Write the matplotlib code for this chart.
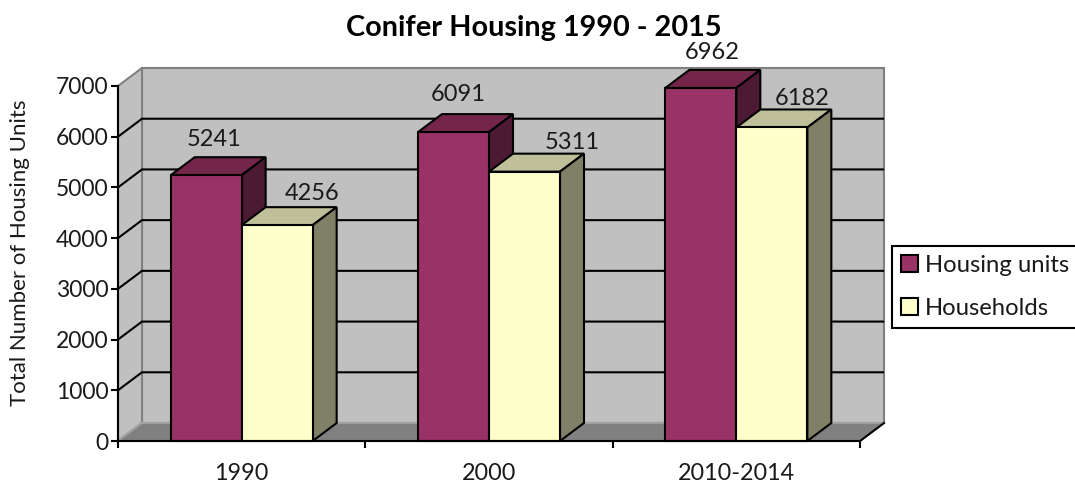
#!/usr/bin/env python
# -*- coding: utf-8 -*-

import matplotlib
matplotlib.use("Agg")
import matplotlib.pyplot as plt
from matplotlib.patches import Polygon, Patch

plt.rcParams['font.family'] = ['Lato', 'DejaVu Sans']

# The data.
categories = ["1990", "2000", "2010-2014"]
housing_units = [5241, 6091, 6962]
households = [4256, 5311, 6182]
y_ticks = [0, 1000, 2000, 3000, 4000, 5000, 6000, 7000]

# Colours: front, top, side.
unit_cols = ("#993366", "#732649", "#4d1a33")
hh_cols = ("#ffffcc", "#bfbf99", "#808066")

fig = plt.figure(figsize=(10.75, 4.84), dpi=100, facecolor='w')

# Axes placed so that x = 0..3 is 118..860 px and y = 0..7000 is 441..86 px.
ax = fig.add_axes([118 / 1075, (484 - 441) / 484, 742 / 1075, 355 / 484])
ax.set_xlim(0, 3)
ax.set_ylim(0, 7000)
ax.patch.set_visible(False)

# Depth of the fake 3D box, in data units.
dx = 24 / (742 / 3)
dy = 18 / (355 / 7000)
# Bar width in data units.
bw = 71 / (742 / 3)
lw = 1.5


def poly(pts, fc, ec, z, w=lw):
    ax.add_patch(Polygon(pts, closed=True, facecolor=fc, edgecolor=ec,
                         linewidth=w, zorder=z, clip_on=False, joinstyle='miter'))


# Walls and floor.
ymax = y_ticks[-1]
poly([(dx, dy), (3 + dx, dy), (3 + dx, ymax + dy), (dx, ymax + dy)], "#c0c0c0", "#808080", 1)
poly([(0, 0), (dx, dy), (dx, ymax + dy), (0, ymax)], "#c0c0c0", "#808080", 1)
poly([(0, 0), (3, 0), (3 + dx, dy), (dx, dy)], "#808080", "#a0a0a0", 1)
ax.plot([3, 3 + dx], [0, dy], color='k', lw=lw, zorder=2, clip_on=False)

# Gridlines run along the left wall and the back wall.
for v in y_ticks[1:-1]:
    ax.plot([0, dx, 3 + dx - 0.004], [v, v + dy, v + dy], color='k', lw=lw, zorder=2,
            clip_on=False, solid_joinstyle='miter')


def bar3d(x, v, cols):
    # Front last so its outline stays on top.
    poly([(x, v), (x + dx, v + dy), (x + bw + dx, v + dy), (x + bw, v)], cols[1], 'k', 3)
    poly([(x + bw, 0), (x + bw + dx, dy), (x + bw + dx, v + dy), (x + bw, v)], cols[2], 'k', 3)
    poly([(x, 0), (x + bw, 0), (x + bw, v), (x, v)], cols[0], 'k', 3)


for i in range(len(categories)):
    bar3d(i + 0.5 - bw, housing_units[i], unit_cols)
    bar3d(i + 0.5, households[i], hh_cols)

# The data labels were placed by hand in the original, offsets in pixels from the bar's top.
unit_offs = [(8, 36), (5, 38), (11, 35)]
hh_offs = [(34.5, 32), (48, 29), (30, 29)]
for i in range(len(categories)):
    ax.annotate(str(housing_units[i]), (i + 0.5 - bw / 2, housing_units[i]), xytext=unit_offs[i],
                textcoords='offset pixels', ha='center', va='center', fontsize=17,
                color='#1a1a1a', zorder=5, annotation_clip=False)
    ax.annotate(str(households[i]), (i + 0.5 + bw / 2, households[i]), xytext=hh_offs[i],
                textcoords='offset pixels', ha='center', va='center', fontsize=17,
                color='#1a1a1a', zorder=5, annotation_clip=False)

# Axes lines and ticks.
for s in ['top', 'right']:
    ax.spines[s].set_visible(False)
for s in ['left', 'bottom']:
    ax.spines[s].set_linewidth(lw)
    ax.spines[s].set_zorder(4)
    ax.spines[s].set_capstyle('projecting')

ax.set_yticks(y_ticks)
ax.set_yticklabels([str(v) for v in y_ticks])
ax.set_xticks([0, 1, 2, 3])
ax.set_xticklabels([])
ax.set_xticks([0.5, 1.5, 2.5], minor=True)
ax.set_xticklabels(categories, minor=True)
ax.tick_params(axis='y', length=5, width=lw, labelsize=16.5, pad=2, labelcolor='#1a1a1a')
ax.tick_params(axis='x', which='major', length=5, width=lw)
ax.tick_params(axis='x', which='minor', length=0, labelsize=16.8, pad=16, labelcolor='#1a1a1a')

fig.text(20 / 1075, 1 - 253 / 484, "Total Number of Housing Units", rotation=90, ha='center',
         va='center', fontsize=16, color='#1a1a1a')
fig.text(534 / 1075, 1 - 28 / 484, "Conifer Housing 1990 - 2015", ha='center', va='center',
         fontsize=20.8, fontweight='bold', color='k')

# Legend, it runs off the right edge in the original.
handles = [Patch(facecolor=unit_cols[0], edgecolor='k', linewidth=lw, label="Housing units"),
           Patch(facecolor=hh_cols[0], edgecolor='k', linewidth=lw, label="Households")]
leg = ax.legend(handles=handles, loc='lower left', bbox_to_anchor=(892 / 1075, (484 - 328) / 484),
                bbox_transform=fig.transFigure, borderaxespad=0, fancybox=False, framealpha=1,
                edgecolor='k', fontsize=17.2, handlelength=0.72, handleheight=0.72,
                handletextpad=0.28, labelspacing=0.92, borderpad=0.37, labelcolor='#1a1a1a')
leg.get_frame().set_linewidth(lw)
leg.set_zorder(6)

fig.savefig("out.png", dpi=100)
